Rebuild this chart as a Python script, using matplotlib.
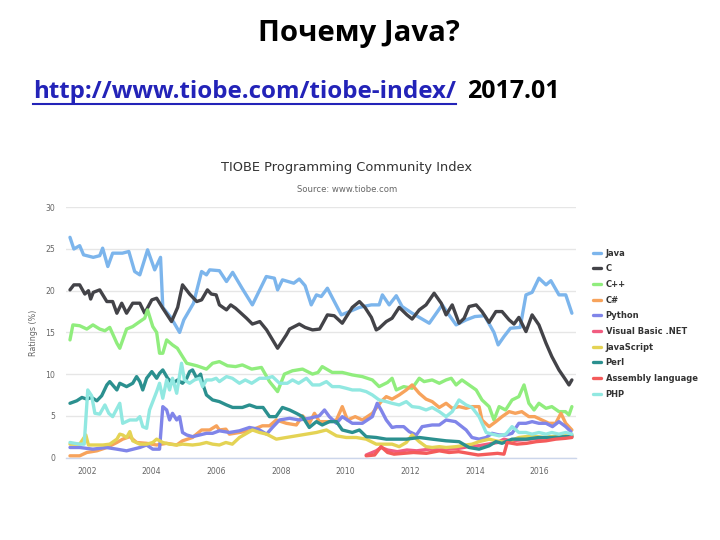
import matplotlib
matplotlib.use('Agg')
import matplotlib.pyplot as plt
from matplotlib.lines import Line2D

# ---------------- data (year, rating %) ----------------
java = [(2001.48, 26.4), (2001.60, 25.0), (2001.78, 25.4), (2001.90, 24.3), (2002.20, 24.0), (2002.40, 24.2),
        (2002.49, 25.1), (2002.65, 22.9), (2002.80, 24.5), (2003.10, 24.5), (2003.30, 24.7), (2003.48, 22.3),
        (2003.64, 21.9), (2003.88, 24.9), (2004.10, 22.5), (2004.28, 24.0), (2004.35, 18.0), (2004.60, 16.8),
        (2004.87, 15.0), (2005.00, 16.5), (2005.30, 18.5), (2005.55, 22.3), (2005.70, 21.9), (2005.80, 22.5),
        (2006.10, 22.4), (2006.32, 21.1), (2006.51, 22.2), (2006.80, 20.3), (2007.12, 18.3), (2007.55, 21.7),
        (2007.80, 21.5), (2007.90, 20.1), (2008.05, 21.3), (2008.40, 20.9), (2008.57, 21.4), (2008.75, 20.6),
        (2008.94, 18.3), (2009.10, 19.5), (2009.25, 19.3), (2009.44, 20.3), (2009.60, 19.1), (2009.87, 17.1),
        (2010.00, 17.3), (2010.43, 18.0), (2010.80, 18.3), (2011.04, 18.3), (2011.14, 19.5), (2011.35, 18.3),
        (2011.57, 19.4), (2011.75, 18.1), (2012.06, 17.3), (2012.59, 16.1), (2012.99, 18.3), (2013.20, 17.1),
        (2013.42, 15.9), (2013.73, 16.5), (2014.00, 16.9), (2014.30, 17.0), (2014.59, 15.0), (2014.72, 13.5),
        (2014.90, 14.5), (2015.10, 15.5), (2015.40, 15.6), (2015.58, 19.5), (2015.77, 19.8), (2015.98, 21.5),
        (2016.20, 20.7), (2016.35, 21.2), (2016.60, 19.5), (2016.81, 19.5), (2017.00, 17.3)]

c_lang = [(2001.48, 20.1), (2001.60, 20.7), (2001.78, 20.7), (2001.94, 19.6), (2002.05, 20.0), (2002.12, 19.0),
          (2002.20, 19.8), (2002.40, 20.1), (2002.62, 18.7), (2002.80, 18.7), (2002.93, 17.3), (2003.08, 18.5),
          (2003.23, 17.3), (2003.42, 18.5), (2003.64, 18.5), (2003.79, 17.3), (2004.01, 18.9), (2004.16, 19.1),
          (2004.35, 17.9), (2004.62, 16.3), (2004.81, 18.0), (2004.96, 20.7), (2005.18, 19.6), (2005.40, 18.7),
          (2005.55, 18.9), (2005.73, 20.1), (2005.85, 19.6), (2006.00, 19.5), (2006.10, 18.3), (2006.32, 17.7),
          (2006.45, 18.3), (2006.60, 17.9), (2006.94, 16.7), (2007.12, 16.0), (2007.35, 16.3), (2007.56, 15.3),
          (2007.90, 13.1), (2008.17, 14.7), (2008.27, 15.4), (2008.57, 16.0), (2008.75, 15.6), (2008.98, 15.3),
          (2009.20, 15.4), (2009.44, 17.1), (2009.65, 17.0), (2009.90, 16.1), (2010.21, 18.0), (2010.43, 18.7),
          (2010.60, 18.0), (2010.80, 16.8), (2010.95, 15.3), (2011.04, 15.5), (2011.26, 16.3), (2011.44, 16.7),
          (2011.66, 18.0), (2011.90, 17.1), (2012.06, 16.6), (2012.28, 17.7), (2012.49, 18.3), (2012.74, 19.7),
          (2012.96, 18.5), (2013.11, 17.1), (2013.30, 18.3), (2013.51, 16.1), (2013.67, 16.7), (2013.82, 18.1),
          (2014.04, 18.3), (2014.22, 17.5), (2014.44, 16.2), (2014.65, 17.5), (2014.84, 17.5), (2015.06, 16.5),
          (2015.21, 16.0), (2015.36, 16.8), (2015.58, 15.1), (2015.77, 17.1), (2015.98, 15.9), (2016.20, 13.7),
          (2016.38, 12.1), (2016.60, 10.5), (2016.81, 9.3), (2016.91, 8.7), (2017.00, 9.3)]

cpp = [(2001.48, 14.1), (2001.57, 15.9), (2001.78, 15.8), (2002.00, 15.4), (2002.19, 15.9), (2002.40, 15.4),
       (2002.56, 15.2), (2002.71, 15.6), (2002.93, 13.7), (2003.02, 13.1), (2003.23, 15.4), (2003.42, 15.7),
       (2003.64, 16.3), (2003.79, 16.7), (2003.88, 17.7), (2004.04, 15.7), (2004.16, 15.0), (2004.25, 12.5),
       (2004.35, 12.5), (2004.47, 14.1), (2004.65, 13.5), (2004.80, 13.1), (2004.96, 12.1), (2005.09, 11.3),
       (2005.40, 11.0), (2005.70, 10.6), (2005.89, 11.3), (2006.10, 11.5), (2006.35, 11.0), (2006.60, 10.9),
       (2006.81, 11.1), (2007.10, 10.6), (2007.40, 10.8), (2007.65, 9.1), (2007.90, 7.9), (2008.11, 10.0),
       (2008.36, 10.4), (2008.67, 10.6), (2008.98, 10.0), (2009.15, 10.2), (2009.28, 10.9), (2009.59, 10.2),
       (2009.90, 10.2), (2010.21, 9.9), (2010.52, 9.7), (2010.83, 9.3), (2011.04, 8.5), (2011.30, 9.0),
       (2011.44, 9.5), (2011.57, 8.1), (2011.80, 8.5), (2012.06, 8.3), (2012.28, 9.5), (2012.43, 9.1),
       (2012.68, 9.3), (2012.90, 8.9), (2013.11, 9.3), (2013.27, 9.5), (2013.42, 8.7), (2013.60, 9.3),
       (2013.82, 8.7), (2014.04, 8.1), (2014.22, 6.9), (2014.44, 6.1), (2014.59, 4.5), (2014.75, 6.1),
       (2014.95, 5.7), (2015.15, 6.9), (2015.36, 7.3), (2015.52, 8.7), (2015.67, 6.5), (2015.83, 5.7),
       (2015.98, 6.5), (2016.20, 5.9), (2016.38, 6.1), (2016.60, 5.5), (2016.80, 5.5), (2016.91, 5.1),
       (2017.00, 6.1)]

csharp = [(2001.48, 0.2), (2001.78, 0.2), (2002.00, 0.6), (2002.31, 0.8), (2002.62, 1.2), (2002.93, 1.8),
          (2003.11, 2.2), (2003.33, 2.5), (2003.54, 1.8), (2003.85, 1.7), (2004.16, 1.5), (2004.47, 1.7),
          (2004.78, 1.5), (2004.96, 2.0), (2005.27, 2.4), (2005.55, 3.3), (2005.80, 3.3), (2006.01, 3.8),
          (2006.10, 3.3), (2006.30, 3.4), (2006.41, 2.8), (2006.72, 3.0), (2007.03, 3.2), (2007.43, 3.8),
          (2007.65, 3.8), (2007.86, 4.5), (2008.17, 4.1), (2008.48, 3.9), (2008.67, 5.0), (2008.88, 4.1),
          (2009.04, 5.3), (2009.19, 4.3), (2009.50, 4.3), (2009.72, 4.5), (2009.90, 6.1), (2010.06, 4.5),
          (2010.30, 4.9), (2010.52, 4.5), (2010.83, 5.3), (2011.10, 6.7), (2011.26, 7.3), (2011.44, 7.0),
          (2011.66, 7.5), (2011.88, 8.1), (2012.06, 8.7), (2012.28, 7.7), (2012.49, 7.0), (2012.68, 6.7),
          (2012.90, 6.0), (2013.11, 6.5), (2013.30, 5.9), (2013.51, 6.1), (2013.73, 5.9), (2013.91, 6.1),
          (2014.13, 6.1), (2014.22, 4.5), (2014.44, 3.7), (2014.65, 4.3), (2014.84, 4.9), (2015.06, 5.5),
          (2015.25, 5.3), (2015.45, 5.5), (2015.67, 4.9), (2015.85, 4.9), (2016.07, 4.5), (2016.29, 4.1),
          (2016.50, 4.1), (2016.66, 5.3), (2016.81, 4.1), (2017.00, 3.3)]

python = [(2001.48, 1.2), (2001.78, 1.2), (2002.19, 1.0), (2002.60, 1.2), (2002.93, 1.0), (2003.23, 0.8),
          (2003.64, 1.2), (2003.85, 1.5), (2004.04, 1.0), (2004.25, 1.0), (2004.35, 6.1), (2004.47, 5.7),
          (2004.56, 4.5), (2004.65, 5.3), (2004.78, 4.5), (2004.87, 4.9), (2004.96, 3.0), (2005.09, 2.7),
          (2005.27, 2.5), (2005.49, 2.7), (2005.70, 2.9), (2005.89, 2.9), (2006.10, 3.2), (2006.41, 3.0),
          (2006.72, 3.2), (2007.03, 3.6), (2007.30, 3.4), (2007.56, 2.8), (2007.74, 3.6), (2007.96, 4.5),
          (2008.27, 4.7), (2008.57, 4.5), (2008.88, 4.7), (2009.19, 5.0), (2009.35, 5.7), (2009.50, 4.9),
          (2009.72, 4.1), (2009.90, 4.9), (2010.21, 4.1), (2010.52, 4.1), (2010.83, 4.9), (2010.98, 6.5),
          (2011.10, 5.7), (2011.26, 4.5), (2011.44, 3.6), (2011.57, 3.7), (2011.80, 3.7), (2011.97, 3.1),
          (2012.19, 2.7), (2012.37, 3.7), (2012.68, 3.9), (2012.90, 3.9), (2013.11, 4.5), (2013.40, 4.3),
          (2013.73, 3.3), (2013.91, 2.4), (2014.13, 2.2), (2014.35, 2.4), (2014.53, 2.9), (2014.75, 2.7),
          (2014.96, 2.7), (2015.15, 2.9), (2015.36, 4.1), (2015.58, 4.1), (2015.77, 4.3), (2015.98, 4.1),
          (2016.20, 4.1), (2016.40, 3.7), (2016.60, 4.3), (2016.81, 3.7), (2016.97, 3.1)]

vbnet = [(2010.64, 0.3), (2010.95, 0.8), (2011.10, 1.2), (2011.30, 0.9), (2011.60, 0.7), (2011.90, 0.9),
         (2012.20, 0.8), (2012.60, 1.0), (2012.90, 0.9), (2013.20, 1.0), (2013.50, 1.1), (2013.80, 1.3),
         (2014.10, 1.4), (2014.40, 1.6), (2014.70, 1.8), (2014.90, 2.2), (2015.10, 2.0), (2015.40, 2.1),
         (2015.70, 2.2), (2016.00, 2.3), (2016.40, 2.4), (2016.80, 2.5), (2017.00, 2.6)]

javascript = [(2001.48, 1.6), (2001.78, 1.6), (2001.97, 2.7), (2002.05, 1.5), (2002.19, 1.5), (2002.50, 1.5),
              (2002.71, 1.6), (2002.93, 2.2), (2003.02, 2.8), (2003.11, 2.7), (2003.23, 2.4), (2003.33, 3.1),
              (2003.42, 2.0), (2003.64, 1.6), (2003.85, 1.6), (2004.04, 1.8), (2004.16, 2.2), (2004.35, 1.8),
              (2004.56, 1.6), (2004.78, 1.5), (2004.96, 1.6), (2005.27, 1.5), (2005.49, 1.6), (2005.70, 1.8),
              (2005.89, 1.6), (2006.10, 1.5), (2006.30, 1.8), (2006.50, 1.6), (2006.72, 2.4), (2007.12, 3.3),
              (2007.34, 3.0), (2007.56, 2.8), (2007.86, 2.2), (2008.17, 2.4), (2008.48, 2.6), (2008.79, 2.8),
              (2009.10, 3.0), (2009.41, 3.3), (2009.72, 2.6), (2010.02, 2.4), (2010.33, 2.4), (2010.64, 2.2),
              (2010.95, 1.6), (2011.26, 1.6), (2011.44, 1.6), (2011.66, 1.3), (2011.88, 1.8), (2012.06, 2.7),
              (2012.28, 1.9), (2012.49, 1.3), (2012.68, 1.2), (2012.90, 1.3), (2013.11, 1.2), (2013.42, 1.3),
              (2013.73, 1.5), (2013.91, 1.6), (2014.13, 1.9), (2014.44, 2.2), (2014.65, 2.0), (2014.96, 1.8),
              (2015.36, 2.4), (2015.77, 2.6), (2016.10, 2.4), (2016.60, 2.6), (2016.91, 2.7), (2017.00, 2.7)]

perl = [(2001.48, 6.5), (2001.69, 6.8), (2001.85, 7.2), (2002.00, 7.0), (2002.15, 7.2), (2002.31, 6.8),
        (2002.46, 7.4), (2002.62, 8.7), (2002.71, 9.1), (2002.93, 8.1), (2003.02, 8.9), (2003.23, 8.5),
        (2003.42, 8.9), (2003.54, 9.7), (2003.64, 9.1), (2003.73, 8.1), (2003.85, 9.5), (2004.01, 10.3),
        (2004.16, 9.5), (2004.25, 10.1), (2004.35, 10.5), (2004.50, 9.5), (2004.65, 8.9), (2004.81, 9.3),
        (2004.96, 8.9), (2005.09, 9.5), (2005.18, 10.3), (2005.27, 10.5), (2005.40, 9.5), (2005.52, 10.0),
        (2005.58, 8.9), (2005.70, 7.5), (2005.89, 6.9), (2006.10, 6.7), (2006.32, 6.3), (2006.51, 6.0),
        (2006.81, 6.0), (2007.03, 6.3), (2007.25, 6.0), (2007.45, 6.0), (2007.65, 4.9), (2007.85, 4.9),
        (2008.05, 6.0), (2008.27, 5.7), (2008.48, 5.3), (2008.67, 4.9), (2008.88, 3.6), (2009.10, 4.3),
        (2009.28, 3.9), (2009.50, 4.3), (2009.72, 4.3), (2009.90, 3.3), (2010.21, 3.0), (2010.43, 3.3),
        (2010.64, 2.5), (2010.95, 2.4), (2011.26, 2.2), (2011.60, 2.2), (2011.88, 2.2), (2012.28, 2.4),
        (2012.68, 2.2), (2013.11, 2.0), (2013.51, 1.9), (2013.82, 1.2), (2014.13, 1.0), (2014.44, 1.4),
        (2014.65, 1.9), (2014.84, 1.7), (2015.15, 2.2), (2015.58, 2.2), (2015.98, 2.4), (2016.38, 2.4),
        (2016.81, 2.5), (2017.00, 2.5)]

assembly = [(2010.64, 0.2), (2010.90, 0.3), (2011.10, 1.3), (2011.30, 0.6), (2011.50, 0.4), (2011.80, 0.5),
            (2012.10, 0.6), (2012.50, 0.5), (2012.90, 0.8), (2013.20, 0.6), (2013.50, 0.7), (2013.80, 0.5),
            (2014.10, 0.3), (2014.40, 0.4), (2014.70, 0.5), (2014.90, 0.4), (2015.00, 1.8), (2015.30, 1.6),
            (2015.60, 1.7), (2015.90, 1.9), (2016.20, 2.0), (2016.50, 2.2), (2016.80, 2.3), (2017.00, 2.4)]

php = [(2001.48, 1.8), (2001.78, 1.6), (2001.92, 1.6), (2002.03, 8.1), (2002.15, 7.4), (2002.25, 5.3),
       (2002.40, 5.2), (2002.56, 6.3), (2002.68, 5.3), (2002.80, 4.9), (2003.02, 6.5), (2003.11, 4.1),
       (2003.33, 4.5), (2003.54, 4.5), (2003.64, 4.9), (2003.73, 3.7), (2003.85, 3.5), (2003.94, 5.7),
       (2004.04, 6.7), (2004.16, 7.9), (2004.25, 8.9), (2004.35, 7.1), (2004.47, 9.3), (2004.56, 8.1),
       (2004.65, 9.5), (2004.78, 7.7), (2004.93, 11.3), (2005.02, 9.3), (2005.18, 8.9), (2005.33, 9.3),
       (2005.49, 9.5), (2005.58, 8.5), (2005.70, 9.3), (2005.86, 9.3), (2006.00, 9.5), (2006.10, 9.1),
       (2006.32, 9.7), (2006.50, 9.5), (2006.72, 8.9), (2006.90, 9.3), (2007.10, 8.9), (2007.34, 9.5),
       (2007.55, 9.5), (2007.74, 9.7), (2007.96, 8.9), (2008.20, 8.9), (2008.36, 9.3), (2008.55, 8.9),
       (2008.79, 9.5), (2008.98, 8.7), (2009.20, 8.7), (2009.41, 9.1), (2009.59, 8.5), (2009.81, 8.5),
       (2010.02, 8.3), (2010.21, 8.1), (2010.45, 8.1), (2010.64, 7.9), (2010.83, 7.5), (2011.04, 6.9),
       (2011.26, 6.7), (2011.44, 6.5), (2011.66, 6.3), (2011.88, 6.7), (2012.06, 6.1), (2012.28, 6.0),
       (2012.49, 5.7), (2012.68, 6.0), (2012.90, 5.5), (2013.11, 4.9), (2013.30, 5.5), (2013.51, 6.9),
       (2013.73, 6.3), (2013.91, 6.0), (2014.13, 4.9), (2014.35, 3.0), (2014.53, 2.8), (2014.75, 2.6),
       (2014.96, 2.8), (2015.15, 3.7), (2015.36, 3.0), (2015.58, 3.0), (2015.77, 2.8), (2015.98, 3.0),
       (2016.20, 2.8), (2016.38, 3.0), (2016.60, 2.8), (2016.81, 3.0), (2017.00, 2.8)]

series_names = ["Java", "C", "C++", "C#", "Python", "Visual Basic .NET", "JavaScript", "Perl",
                "Assembly language", "PHP"]
series_data = [java, c_lang, cpp, csharp, python, vbnet, javascript, perl, assembly, php]
series_colors = ['#7cb5ec', '#434348', '#90ed7d', '#f7a35c', '#8085e9', '#f15c80', '#e4d354',
                 '#2b908f', '#f45b5b', '#91e8e1']

year_ticks = [2002, 2004, 2006, 2008, 2010, 2012, 2014, 2016]
rating_ticks = [0, 5, 10, 15, 20, 25, 30]

slide_title = "Почему Java?"
link_text = "http://www.tiobe.com/tiobe-index/"
date_text = "2017.01"
chart_title = "TIOBE Programming Community Index"
chart_subtitle = "Source: www.tiobe.com"
y_label = "Ratings (%)"

# ---------------- figure ----------------
W, H = 720, 540
fig = plt.figure(figsize=(W / 100, H / 100), dpi=100)
fig.patch.set_facecolor('white')


def fx(px):
    return px / W


def fy(py):
    return 1 - py / H


renderer = fig.canvas.get_renderer()


def fit_width(t, width_px):
    bb = t.get_window_extent(renderer)
    t.set_fontsize(t.get_fontsize() * width_px / bb.width)


slide_font = ['Open Sans', 'DejaVu Sans']

t1 = fig.text(fx(359), fy(33), slide_title, ha='center', va='center', fontsize=20,
              fontweight='bold', family=slide_font, color='black')
fit_width(t1, 202)

t2 = fig.text(fx(33), fy(92), link_text, ha='left', va='center', fontsize=16,
              fontweight='bold', family=slide_font, color='#2323b8')
fit_width(t2, 424)
t3 = fig.text(fx(467), fy(92), date_text, ha='left', va='center', fontsize=16,
              fontweight='bold', family=slide_font, color='black')
fit_width(t3, 93)
bb2 = t2.get_window_extent(renderer)
fig.add_artist(Line2D([bb2.x0 / W, bb2.x1 / W], [fy(103.5), fy(103.5)], transform=fig.transFigure,
                      color='#2323b8', lw=1.5))

ct = fig.text(fx(347), fy(168), chart_title, ha='center', va='center', fontsize=9,
              color='#333333', family='DejaVu Sans')
fit_width(ct, 250)
st = fig.text(fx(347), fy(190), chart_subtitle, ha='center', va='center', fontsize=6,
              color='#666666', family='DejaVu Sans')
fit_width(st, 101)
yl = fig.text(fx(33), fy(333), y_label, ha='center', va='center', rotation=90, fontsize=5.8,
              color='#666666', family='DejaVu Sans')

# ---------------- axes ----------------
ax = fig.add_axes([fx(66), fy(457.5), (576 - 66) / W, (457.5 - 207.3) / H])
ax.set_facecolor('white')
handles = []
for name, data, color in zip(series_names, series_data, series_colors):
    xs = [p[0] for p in data]
    ys = [p[1] for p in data]
    ln, = ax.plot(xs, ys, color=color, lw=2.4, label=name, solid_joinstyle='round',
                  solid_capstyle='round', clip_on=False)
    handles.append(ln)

ax.set_xlim(2001.357, 2017.127)
ax.set_ylim(0, 30)
ax.set_yticks(rating_ticks)
ax.set_yticklabels([str(v) for v in rating_ticks])
ax.set_xticks(year_ticks)
ax.set_xticklabels([str(v) for v in year_ticks])
ax.yaxis.grid(True, color='#e6e6e6', lw=1)
ax.set_axisbelow(True)
for s in ['top', 'right', 'left']:
    ax.spines[s].set_visible(False)
ax.spines['bottom'].set_color('#ccd6eb')
ax.spines['bottom'].set_linewidth(1)
ax.tick_params(axis='y', length=0, pad=8, labelsize=5.6, labelcolor='#666666')
ax.tick_params(axis='x', length=0, pad=7, labelsize=5.6, labelcolor='#666666')

leg = ax.legend(handles=handles, loc='upper left', bbox_to_anchor=(fx(593), fy(248.5)),
                bbox_transform=fig.transFigure, frameon=False, borderpad=0, borderaxespad=0,
                handlelength=0.95, handletextpad=0.55, labelspacing=0.8,
                prop={'weight': 'bold', 'size': 6, 'family': 'DejaVu Sans'})
for txt in leg.get_texts():
    txt.set_color('#333333')
for lh in leg.get_lines():
    lh.set_linewidth(2.4)

fig.savefig('out.png', dpi=100, facecolor='white')
